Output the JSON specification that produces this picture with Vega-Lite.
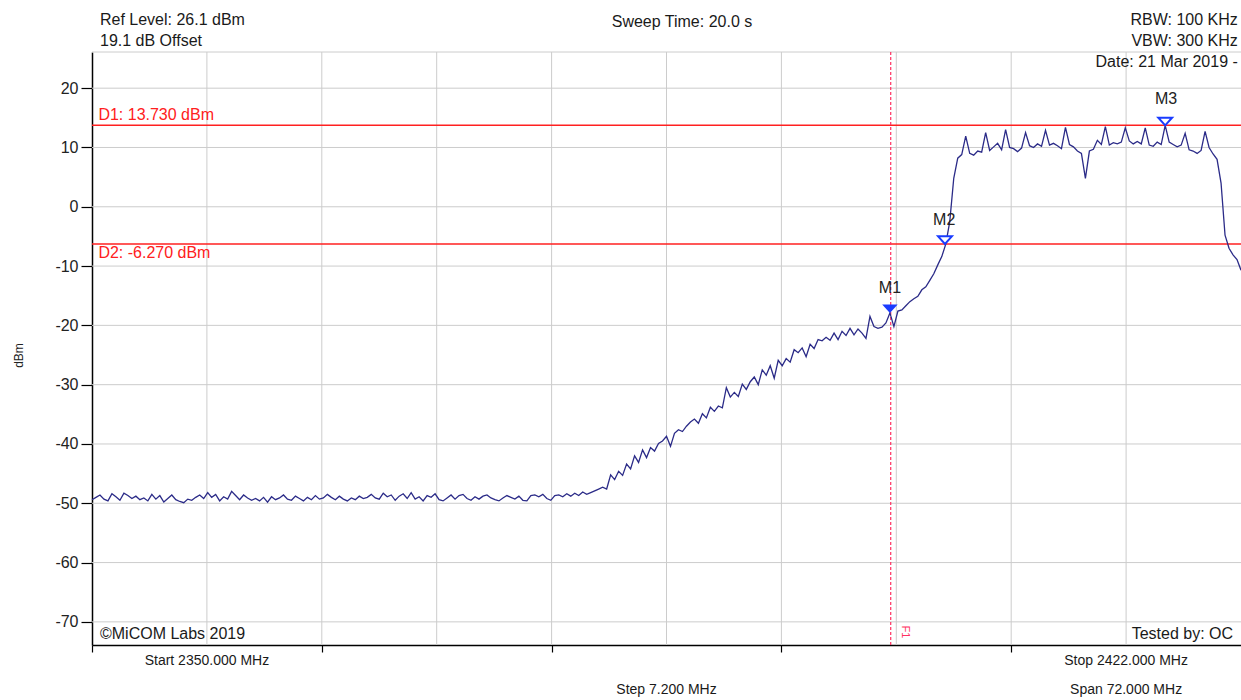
{
  "$schema": "https://vega.github.io/schema/vega-lite/v6.json",
  "width": 1149,
  "height": 593,
  "autosize": {"type": "none"},
  "padding": {"left": 92, "top": 52, "right": 0, "bottom": 55},
  "background": "#ffffff",
  "config": {"view": {"stroke": null}, "font": "Liberation Sans"},
  "datasets": {
    "trace": [
      {"f":2350.00,"v":-49.4},{"f":2350.25,"v":-49.0},{"f":2350.50,"v":-48.6},{"f":2350.75,"v":-49.3},{"f":2351.00,"v":-49.6},{"f":2351.25,"v":-48.4},{"f":2351.50,"v":-48.9},{"f":2351.75,"v":-49.5},
      {"f":2352.00,"v":-48.3},{"f":2352.25,"v":-48.7},{"f":2352.50,"v":-49.2},{"f":2352.75,"v":-48.8},{"f":2353.00,"v":-49.4},{"f":2353.25,"v":-49.1},{"f":2353.50,"v":-49.6},{"f":2353.75,"v":-48.5},
      {"f":2354.00,"v":-49.3},{"f":2354.25,"v":-48.7},{"f":2354.50,"v":-49.8},{"f":2354.75,"v":-49.2},{"f":2355.00,"v":-48.6},{"f":2355.25,"v":-49.4},{"f":2355.50,"v":-49.7},{"f":2355.75,"v":-49.9},
      {"f":2356.00,"v":-49.3},{"f":2356.25,"v":-49.5},{"f":2356.50,"v":-49.0},{"f":2356.75,"v":-48.6},{"f":2357.00,"v":-49.2},{"f":2357.25,"v":-48.2},{"f":2357.50,"v":-49.0},{"f":2357.75,"v":-48.5},
      {"f":2358.00,"v":-49.6},{"f":2358.25,"v":-48.9},{"f":2358.50,"v":-49.3},{"f":2358.75,"v":-48.0},{"f":2359.00,"v":-48.7},{"f":2359.25,"v":-49.4},{"f":2359.50,"v":-48.6},{"f":2359.75,"v":-49.1},
      {"f":2360.00,"v":-49.5},{"f":2360.25,"v":-49.2},{"f":2360.50,"v":-49.6},{"f":2360.75,"v":-49.0},{"f":2361.00,"v":-49.8},{"f":2361.25,"v":-48.9},{"f":2361.50,"v":-49.4},{"f":2361.75,"v":-49.1},
      {"f":2362.00,"v":-48.6},{"f":2362.25,"v":-49.3},{"f":2362.50,"v":-49.5},{"f":2362.75,"v":-48.8},{"f":2363.00,"v":-49.2},{"f":2363.25,"v":-49.6},{"f":2363.50,"v":-49.0},{"f":2363.75,"v":-49.4},
      {"f":2364.00,"v":-48.7},{"f":2364.25,"v":-49.3},{"f":2364.50,"v":-49.1},{"f":2364.75,"v":-48.5},{"f":2365.00,"v":-49.0},{"f":2365.25,"v":-49.4},{"f":2365.50,"v":-48.8},{"f":2365.75,"v":-49.3},
      {"f":2366.00,"v":-49.6},{"f":2366.25,"v":-49.1},{"f":2366.50,"v":-49.4},{"f":2366.75,"v":-48.8},{"f":2367.00,"v":-49.2},{"f":2367.25,"v":-49.0},{"f":2367.50,"v":-48.5},{"f":2367.75,"v":-49.1},
      {"f":2368.00,"v":-49.3},{"f":2368.25,"v":-48.3},{"f":2368.50,"v":-48.9},{"f":2368.75,"v":-48.6},{"f":2369.00,"v":-49.5},{"f":2369.25,"v":-48.8},{"f":2369.50,"v":-48.4},{"f":2369.75,"v":-49.2},
      {"f":2370.00,"v":-48.2},{"f":2370.25,"v":-49.3},{"f":2370.50,"v":-48.9},{"f":2370.75,"v":-49.6},{"f":2371.00,"v":-48.7},{"f":2371.25,"v":-49.0},{"f":2371.50,"v":-48.4},{"f":2371.75,"v":-49.4},
      {"f":2372.00,"v":-49.6},{"f":2372.25,"v":-49.1},{"f":2372.50,"v":-48.6},{"f":2372.75,"v":-49.3},{"f":2373.00,"v":-48.7},{"f":2373.25,"v":-48.5},{"f":2373.50,"v":-49.2},{"f":2373.75,"v":-49.5},
      {"f":2374.00,"v":-48.9},{"f":2374.25,"v":-49.3},{"f":2374.50,"v":-48.8},{"f":2374.75,"v":-48.6},{"f":2375.00,"v":-49.1},{"f":2375.25,"v":-49.4},{"f":2375.50,"v":-49.6},{"f":2375.75,"v":-49.1},
      {"f":2376.00,"v":-48.7},{"f":2376.25,"v":-49.0},{"f":2376.50,"v":-49.3},{"f":2376.75,"v":-48.8},{"f":2377.00,"v":-49.5},{"f":2377.25,"v":-49.6},{"f":2377.50,"v":-48.7},{"f":2377.75,"v":-48.6},
      {"f":2378.00,"v":-48.9},{"f":2378.25,"v":-48.5},{"f":2378.50,"v":-49.2},{"f":2378.75,"v":-49.5},{"f":2379.00,"v":-48.7},{"f":2379.25,"v":-48.6},{"f":2379.50,"v":-48.9},{"f":2379.75,"v":-48.4},
      {"f":2380.00,"v":-48.8},{"f":2380.25,"v":-48.3},{"f":2380.50,"v":-48.7},{"f":2380.75,"v":-48.1},{"f":2381.00,"v":-48.5},{"f":2381.25,"v":-48.2},{"f":2381.50,"v":-47.9},{"f":2381.75,"v":-47.6},
      {"f":2382.00,"v":-47.3},{"f":2382.25,"v":-47.6},{"f":2382.50,"v":-45.2},{"f":2382.75,"v":-46.0},{"f":2383.00,"v":-44.6},{"f":2383.25,"v":-45.3},{"f":2383.50,"v":-43.4},{"f":2383.75,"v":-44.2},
      {"f":2384.00,"v":-42.0},{"f":2384.25,"v":-43.1},{"f":2384.50,"v":-41.0},{"f":2384.75,"v":-42.3},{"f":2385.00,"v":-40.6},{"f":2385.25,"v":-41.2},{"f":2385.50,"v":-39.9},{"f":2385.75,"v":-39.5},
      {"f":2386.00,"v":-38.7},{"f":2386.25,"v":-40.4},{"f":2386.50,"v":-38.2},{"f":2386.75,"v":-37.6},{"f":2387.00,"v":-37.9},{"f":2387.25,"v":-37.0},{"f":2387.50,"v":-36.3},{"f":2387.75,"v":-35.8},
      {"f":2388.00,"v":-36.5},{"f":2388.25,"v":-34.9},{"f":2388.50,"v":-35.6},{"f":2388.75,"v":-33.8},{"f":2389.00,"v":-34.5},{"f":2389.25,"v":-33.6},{"f":2389.50,"v":-33.9},{"f":2389.75,"v":-30.5},
      {"f":2390.00,"v":-32.1},{"f":2390.25,"v":-31.3},{"f":2390.50,"v":-32.0},{"f":2390.75,"v":-29.9},{"f":2391.00,"v":-30.8},{"f":2391.25,"v":-29.5},{"f":2391.50,"v":-28.7},{"f":2391.75,"v":-30.0},
      {"f":2392.00,"v":-27.5},{"f":2392.25,"v":-28.4},{"f":2392.50,"v":-26.8},{"f":2392.75,"v":-28.9},{"f":2393.00,"v":-25.9},{"f":2393.25,"v":-26.8},{"f":2393.50,"v":-25.6},{"f":2393.75,"v":-26.2},
      {"f":2394.00,"v":-24.1},{"f":2394.25,"v":-24.6},{"f":2394.50,"v":-23.8},{"f":2394.75,"v":-25.3},{"f":2395.00,"v":-23.2},{"f":2395.25,"v":-23.9},{"f":2395.50,"v":-22.4},{"f":2395.75,"v":-22.6},
      {"f":2396.00,"v":-22.0},{"f":2396.25,"v":-22.5},{"f":2396.50,"v":-21.3},{"f":2396.75,"v":-22.4},{"f":2397.00,"v":-21.0},{"f":2397.25,"v":-21.7},{"f":2397.50,"v":-20.5},{"f":2397.75,"v":-21.6},
      {"f":2398.00,"v":-20.6},{"f":2398.25,"v":-21.3},{"f":2398.50,"v":-22.2},{"f":2398.75,"v":-18.5},{"f":2399.00,"v":-20.2},{"f":2399.25,"v":-20.5},{"f":2399.50,"v":-20.3},{"f":2399.75,"v":-19.6},
      {"f":2400.00,"v":-17.9},{"f":2400.25,"v":-20.2},{"f":2400.50,"v":-17.6},{"f":2400.75,"v":-17.4},{"f":2401.00,"v":-16.7},{"f":2401.25,"v":-16.0},{"f":2401.50,"v":-15.5},{"f":2401.75,"v":-15.1},
      {"f":2402.00,"v":-14.0},{"f":2402.25,"v":-13.5},{"f":2402.50,"v":-12.4},{"f":2402.75,"v":-11.3},{"f":2403.00,"v":-9.8},{"f":2403.25,"v":-8.4},{"f":2403.50,"v":-6.3},{"f":2403.75,"v":-2.5},
      {"f":2404.00,"v":4.8},{"f":2404.25,"v":8.2},{"f":2404.50,"v":8.8},{"f":2404.75,"v":11.9},
      {"f":2405.00,"v":9.0},{"f":2405.25,"v":8.7},{"f":2405.50,"v":9.4},{"f":2405.75,"v":9.2},{"f":2406.00,"v":12.5},{"f":2406.25,"v":9.5},{"f":2406.50,"v":10.1},{"f":2406.75,"v":10.7},
      {"f":2407.00,"v":9.6},{"f":2407.25,"v":13.0},{"f":2407.50,"v":10.0},{"f":2407.75,"v":9.8},{"f":2408.00,"v":9.3},{"f":2408.25,"v":9.9},{"f":2408.50,"v":12.5},{"f":2408.75,"v":10.3},
      {"f":2409.00,"v":10.0},{"f":2409.25,"v":10.6},{"f":2409.50,"v":10.2},{"f":2409.75,"v":12.9},{"f":2410.00,"v":10.4},{"f":2410.25,"v":10.7},{"f":2410.50,"v":10.3},{"f":2410.75,"v":9.8},
      {"f":2411.00,"v":13.4},{"f":2411.25,"v":10.5},{"f":2411.50,"v":10.1},{"f":2411.75,"v":9.4},{"f":2412.00,"v":9.0},{"f":2412.25,"v":4.8},{"f":2412.50,"v":9.4},{"f":2412.75,"v":9.7},
      {"f":2413.00,"v":11.2},{"f":2413.25,"v":10.5},{"f":2413.50,"v":13.5},{"f":2413.75,"v":10.4},{"f":2414.00,"v":10.8},{"f":2414.25,"v":10.6},{"f":2414.50,"v":10.9},{"f":2414.75,"v":13.3},
      {"f":2415.00,"v":11.1},{"f":2415.25,"v":10.6},{"f":2415.50,"v":11.0},{"f":2415.75,"v":10.6},{"f":2416.00,"v":13.3},{"f":2416.25,"v":10.4},{"f":2416.50,"v":10.2},{"f":2416.75,"v":10.9},
      {"f":2417.00,"v":10.5},{"f":2417.25,"v":13.73},{"f":2417.50,"v":10.9},{"f":2417.75,"v":10.5},{"f":2418.00,"v":10.1},{"f":2418.25,"v":10.4},{"f":2418.50,"v":12.4},{"f":2418.75,"v":9.6},
      {"f":2419.00,"v":9.4},{"f":2419.25,"v":9.0},{"f":2419.50,"v":9.5},{"f":2419.75,"v":12.7},{"f":2420.00,"v":10.0},{"f":2420.25,"v":8.9},{"f":2420.50,"v":8.0},{"f":2420.75,"v":4.0},
      {"f":2421.00,"v":-4.8},{"f":2421.25,"v":-7.0},{"f":2421.50,"v":-8.1},{"f":2421.75,"v":-8.9},{"f":2422.00,"v":-10.7}
    ]
  },
  "layer": [
    {
      "data": {"values": [{"f":2357.2},{"f":2364.4},{"f":2371.6},{"f":2378.8},{"f":2386.0},{"f":2393.2},{"f":2400.4},{"f":2407.6},{"f":2414.8}]},
      "mark": {"type": "rule", "color": "#cccccc", "strokeWidth": 1},
      "encoding": {
        "x": {"field": "f", "type": "quantitative", "scale": {"domain": [2350, 2422], "nice": false, "zero": false},
          "axis": {"values": [2350, 2364.4, 2378.8, 2393.2, 2407.6], "labels": false, "tickSize": 7, "tickColor": "#000000", "tickWidth": 1.2, "domainColor": "#000000", "domainWidth": 1.5, "grid": false, "title": null}}
      }
    },
    {
      "data": {"values": [{"v":-70},{"v":-60},{"v":-50},{"v":-40},{"v":-30},{"v":-20},{"v":-10},{"v":0},{"v":10},{"v":20},{"v":26.1}]},
      "mark": {"type": "rule", "color": "#cccccc", "strokeWidth": 1},
      "encoding": {
        "y": {"field": "v", "type": "quantitative", "scale": {"domain": [-73.9, 26.1], "nice": false, "zero": false},
          "axis": {"values": [-70, -60, -50, -40, -30, -20, -10, 0, 10, 20], "labelExpr": "'' + datum.value", "tickSize": 11, "tickColor": "#000000", "tickWidth": 1.2, "domainColor": "#000000", "domainWidth": 1.5, "grid": false, "labelFont": "Liberation Sans", "labelFontSize": 16, "labelColor": "#222222", "labelPadding": 3, "title": "dBm", "titleFont": "Liberation Sans", "titleFontSize": 12, "titleFontWeight": "normal", "titleColor": "#222222", "titleX": -74, "titleY": 303, "titleAngle": 270, "titleAlign": "center", "titleBaseline": "middle"}}
      }
    },
    {
      "data": {"values": [{"v": 13.73}, {"v": -6.27}]},
      "mark": {"type": "rule", "color": "#ff2020", "strokeWidth": 1.5},
      "encoding": {"y": {"field": "v", "type": "quantitative"}}
    },
    {
      "data": {"values": [{"f": 2400.05}]},
      "mark": {"type": "rule", "color": "#ff3060", "strokeWidth": 1.2, "strokeDash": [3, 2]},
      "encoding": {"x": {"field": "f", "type": "quantitative"}}
    },
    {
      "data": {"name": "trace"},
      "mark": {"type": "line", "color": "#2b2b88", "strokeWidth": 1.3},
      "encoding": {
        "x": {"field": "f", "type": "quantitative"},
        "y": {"field": "v", "type": "quantitative"}
      }
    },
    {
      "data": {"values": [{"f": 2400.0, "v": -17.9}]},
      "mark": {"type": "point", "shape": "M-1,-1.1L1,-1.1L0,0Z", "size": 240, "filled": true, "color": "#1a3cff", "opacity": 1},
      "encoding": {"x": {"field": "f", "type": "quantitative"}, "y": {"field": "v", "type": "quantitative"}}
    },
    {
      "data": {"values": [{"f": 2403.45, "v": -6.27}, {"f": 2417.25, "v": 13.73}]},
      "mark": {"type": "point", "shape": "M-1,-1.1L1,-1.1L0,0Z", "size": 190, "filled": false, "fill": "#ffffff", "fillOpacity": 1, "stroke": "#1a3cff", "strokeWidth": 2, "opacity": 1},
      "encoding": {"x": {"field": "f", "type": "quantitative"}, "y": {"field": "v", "type": "quantitative"}}
    },
    {
      "data": {"values": [{"f": 2400.0, "v": -13.7, "t": "M1"}, {"f": 2403.4, "v": -2.2, "t": "M2"}, {"f": 2417.3, "v": 18.2, "t": "M3"}]},
      "mark": {"type": "text", "align": "center", "baseline": "middle", "font": "Liberation Sans", "fontSize": 16, "color": "#222222"},
      "encoding": {"x": {"field": "f", "type": "quantitative"}, "y": {"field": "v", "type": "quantitative"}, "text": {"field": "t"}}
    },
    {
      "data": {"values": [{"f": 2350.4, "v": 15.5, "t": "D1: 13.730 dBm"}, {"f": 2350.4, "v": -7.8, "t": "D2: -6.270 dBm"}]},
      "mark": {"type": "text", "align": "left", "baseline": "middle", "font": "Liberation Sans", "fontSize": 16, "color": "#ff2020"},
      "encoding": {"x": {"field": "f", "type": "quantitative"}, "y": {"field": "v", "type": "quantitative"}, "text": {"field": "t"}}
    },
    {
      "data": {"values": [{"f": 2400.95, "v": -71.7, "t": "F1"}]},
      "mark": {"type": "text", "align": "center", "baseline": "middle", "angle": 90, "font": "Liberation Sans", "fontSize": 11, "color": "#ff3060"},
      "encoding": {"x": {"field": "f", "type": "quantitative"}, "y": {"field": "v", "type": "quantitative"}, "text": {"field": "t"}}
    },
    {
      "data": {"values": [{"f": 2350.5, "v": 31.5, "t": "Ref Level: 26.1 dBm"}, {"f": 2350.5, "v": 28.0, "t": "19.1 dB Offset"}, {"f": 2350.5, "v": -72.0, "t": "©MiCOM Labs 2019"}]},
      "mark": {"type": "text", "align": "left", "baseline": "middle", "font": "Liberation Sans", "fontSize": 16, "color": "#1a1a1a"},
      "encoding": {"x": {"field": "f", "type": "quantitative"}, "y": {"field": "v", "type": "quantitative"}, "text": {"field": "t"}}
    },
    {
      "data": {"values": [{"f": 2386.97, "v": 31.2, "t": "Sweep Time: 20.0 s"}]},
      "mark": {"type": "text", "align": "center", "baseline": "middle", "font": "Liberation Sans", "fontSize": 16, "color": "#1a1a1a"},
      "encoding": {"x": {"field": "f", "type": "quantitative"}, "y": {"field": "v", "type": "quantitative"}, "text": {"field": "t"}}
    },
    {
      "data": {"values": [{"f": 2421.8, "v": 31.5, "t": "RBW: 100 KHz"}, {"f": 2421.8, "v": 28.0, "t": "VBW: 300 KHz"}, {"f": 2421.8, "v": 24.4, "t": "Date: 21 Mar 2019 -"}, {"f": 2421.5, "v": -72.0, "t": "Tested by: OC"}]},
      "mark": {"type": "text", "align": "right", "baseline": "middle", "font": "Liberation Sans", "fontSize": 16, "color": "#1a1a1a"},
      "encoding": {"x": {"field": "f", "type": "quantitative"}, "y": {"field": "v", "type": "quantitative"}, "text": {"field": "t"}}
    },
    {
      "data": {"values": [{"f": 2357.2, "v": -76.6, "t": "Start 2350.000 MHz"}, {"f": 2414.8, "v": -76.6, "t": "Stop 2422.000 MHz"}, {"f": 2386.0, "v": -81.5, "t": "Step 7.200 MHz"}, {"f": 2414.8, "v": -81.5, "t": "Span 72.000 MHz"}]},
      "mark": {"type": "text", "align": "center", "baseline": "middle", "font": "Liberation Sans", "fontSize": 14, "color": "#1a1a1a"},
      "encoding": {"x": {"field": "f", "type": "quantitative"}, "y": {"field": "v", "type": "quantitative"}, "text": {"field": "t"}}
    }
  ]
}
